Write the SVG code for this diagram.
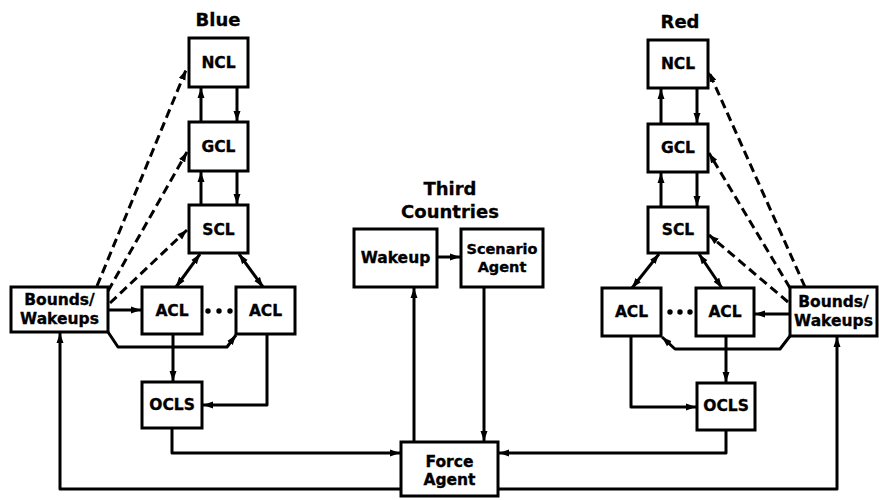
<svg xmlns="http://www.w3.org/2000/svg" width="879" height="500" viewBox="0 0 879 500">
<style>
.box{fill:#fff;stroke:#000;stroke-width:3}
.t{font-family:"DejaVu Sans","Liberation Sans",sans-serif;font-weight:bold;font-size:15.5px;text-anchor:middle;fill:#000;stroke:#000;stroke-width:0.35}
.s{font-size:14.5px}
.h{font-family:"DejaVu Sans","Liberation Sans",sans-serif;font-weight:bold;font-size:18px;text-anchor:middle;fill:#000;stroke:#000;stroke-width:0.3}
.c{fill:none;stroke:#000;stroke-width:3;stroke-linejoin:round}
.a{marker-end:url(#ah)}
.b{marker-start:url(#ah);marker-end:url(#ah)}
.d{stroke-dasharray:9 5;stroke-width:3}
</style>
<defs>
<marker id="ah" markerUnits="userSpaceOnUse" markerWidth="12" markerHeight="10" refX="10" refY="4" orient="auto-start-reverse">
<path d="M0,0.5 L10,4 L0,7.5 z" fill="#000"/>
</marker>
</defs>
<g id="connectors">
<line class="c a" x1="201" y1="122" x2="201" y2="88"/>
<line class="c a" x1="237" y1="87" x2="237" y2="121"/>
<line class="c a" x1="201" y1="205" x2="201" y2="172"/>
<line class="c a" x1="237" y1="171" x2="237" y2="204"/>
<line class="c a d" x1="97" y1="286" x2="186" y2="70"/>
<line class="c a d" x1="108" y1="291" x2="187" y2="152"/>
<line class="c a d" x1="110" y1="303" x2="187" y2="230"/>
<line class="c a" x1="108" y1="310" x2="141" y2="310"/>
<line class="c b" x1="176" y1="287" x2="200" y2="254"/>
<line class="c b" x1="263" y1="287" x2="239" y2="254"/>
<polyline class="c a" points="108,332 118,347 227,347 236,335"/>
<line class="c a" x1="173" y1="334" x2="173" y2="381"/>
<polyline class="c a" points="267,334 267,405 203,405"/>
<polyline class="c a" points="172,428 172,453 400,453"/>
<polyline class="c a" points="401,489 60,489 60,333"/>
<line class="c a" x1="437" y1="257" x2="460" y2="257"/>
<line class="c a" x1="414" y1="442" x2="414" y2="288"/>
<line class="c a" x1="484" y1="287" x2="484" y2="441"/>
<line class="c a" x1="661" y1="124" x2="661" y2="89"/>
<line class="c a" x1="697" y1="88" x2="697" y2="123"/>
<line class="c a" x1="661" y1="207" x2="661" y2="173"/>
<line class="c a" x1="697" y1="172" x2="697" y2="206"/>
<line class="c a d" x1="805" y1="287" x2="709" y2="72"/>
<line class="c a d" x1="790" y1="288" x2="709" y2="153"/>
<line class="c a d" x1="788" y1="302" x2="709" y2="235"/>
<line class="c a" x1="790" y1="314" x2="755" y2="314"/>
<line class="c b" x1="632" y1="288" x2="659" y2="254"/>
<line class="c b" x1="722" y1="288" x2="699" y2="254"/>
<polyline class="c a" points="790,336 780,349 675,349 662,337"/>
<line class="c a" x1="726" y1="336" x2="726" y2="382"/>
<polyline class="c a" points="631,336 631,407 696,407"/>
<polyline class="c a" points="726,430 726,453 499,453"/>
<polyline class="c a" points="498,489 837,489 837,337"/>
</g>
<g id="labels">
<text class="h" x="218" y="26">Blue</text>
<text class="h" x="680" y="28">Red</text>
<text class="h" x="450" y="195">Third</text>
<text class="h" x="450" y="218">Countries</text>
</g>
<g id="blue-ncl"><rect class="box" x="189" y="38" width="59" height="49"/><text class="t" x="218.5" y="68">NCL</text></g>
<g id="blue-gcl"><rect class="box" x="189" y="122" width="59" height="49"/><text class="t" x="218.5" y="152">GCL</text></g>
<g id="blue-scl"><rect class="box" x="189" y="205" width="59" height="48"/><text class="t" x="218.5" y="235">SCL</text></g>
<g id="blue-bounds"><rect class="box" x="11" y="287" width="97" height="45"/><text class="t" x="59.5" y="305">Bounds/</text><text class="t" x="59.5" y="324">Wakeups</text></g>
<g id="blue-acl1"><rect class="box" x="142" y="287" width="60" height="47"/><text class="t" x="172" y="316">ACL</text></g>
<g id="blue-acl2"><rect class="box" x="236" y="287" width="59" height="47"/><text class="t" x="265.5" y="316">ACL</text></g>
<g id="blue-dots"><circle cx="208" cy="311" r="2.7"/><circle cx="219" cy="311" r="2.7"/><circle cx="230" cy="311" r="2.7"/></g>
<g id="blue-ocls"><rect class="box" x="142" y="382" width="60" height="46"/><text class="t" x="172" y="410">OCLS</text></g>
<g id="tc-wakeup"><rect class="box" x="354" y="229" width="83" height="58"/><text class="t" x="395.5" y="263">Wakeup</text></g>
<g id="tc-scenario"><rect class="box" x="461" y="229" width="82" height="58"/><text class="t s" x="502" y="254">Scenario</text><text class="t s" x="502" y="272">Agent</text></g>
<g id="force-agent"><rect class="box" x="401" y="442" width="97" height="54"/><text class="t" x="449.5" y="467">Force</text><text class="t" x="449.5" y="485">Agent</text></g>
<g id="red-ncl"><rect class="box" x="648" y="40" width="60" height="48"/><text class="t" x="678" y="69">NCL</text></g>
<g id="red-gcl"><rect class="box" x="648" y="124" width="60" height="48"/><text class="t" x="678" y="153">GCL</text></g>
<g id="red-scl"><rect class="box" x="648" y="207" width="60" height="46"/><text class="t" x="678" y="235">SCL</text></g>
<g id="red-bounds"><rect class="box" x="790" y="287" width="87" height="49"/><text class="t" x="833.5" y="307">Bounds/</text><text class="t" x="833.5" y="326">Wakeups</text></g>
<g id="red-acl1"><rect class="box" x="602" y="288" width="59" height="48"/><text class="t" x="631.5" y="317">ACL</text></g>
<g id="red-acl2"><rect class="box" x="696" y="288" width="58" height="48"/><text class="t" x="725" y="317">ACL</text></g>
<g id="red-dots"><circle cx="670" cy="312" r="2.7"/><circle cx="680" cy="312" r="2.7"/><circle cx="690" cy="312" r="2.7"/></g>
<g id="red-ocls"><rect class="box" x="697" y="383" width="58" height="47"/><text class="t" x="726" y="411">OCLS</text></g>
</svg>
